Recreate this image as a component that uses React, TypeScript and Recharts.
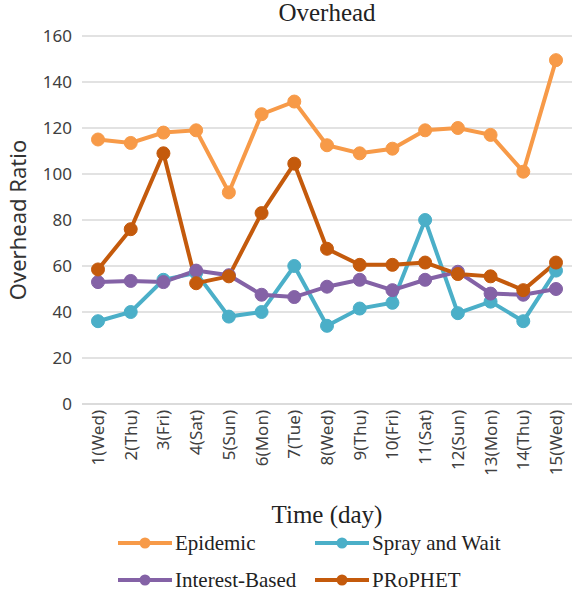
import { LineChart, Line, XAxis, YAxis, CartesianGrid, Legend } from "recharts"

const days = ["1(Wed)", "2(Thu)", "3(Fri)", "4(Sat)", "5(Sun)", "6(Mon)", "7(Tue)", "8(Wed)", "9(Thu)", "10(Fri)", "11(Sat)", "12(Sun)", "13(Mon)", "14(Thu)", "15(Wed)"]
const epidemic = [115, 113.5, 118, 119, 92, 126, 131.5, 112.5, 109, 111, 119, 120, 117, 101, 149.5]
const sprayAndWait = [36, 40, 54, 57, 38, 40, 60, 34, 41.5, 44, 80, 39.5, 44.5, 36, 58]
const interestBased = [53, 53.5, 53, 58, 56, 47.5, 46.5, 51, 54, 49.5, 54, 57.5, 48, 47.5, 50]
const prophet = [58.5, 76, 109, 52.5, 55.5, 83, 104.5, 67.5, 60.5, 60.5, 61.5, 56.5, 55.5, 49.5, 61.5]
const yTicks = [0, 20, 40, 60, 80, 100, 120, 140, 160]

const series = [
  { key: "epidemic", name: "Epidemic", color: "#F79A48" },
  { key: "spray", name: "Spray and Wait", color: "#4BAFC8" },
  { key: "interest", name: "Interest-Based", color: "#8462A6" },
  { key: "prophet", name: "PRoPHET", color: "#C45A0C" },
]

const data = days.map((day, i) => ({
  day,
  epidemic: epidemic[i],
  spray: sprayAndWait[i],
  interest: interestBased[i],
  prophet: prophet[i],
}))

const serif = "'Liberation Serif', 'Times New Roman', serif"
const sans = "'Noto Sans', 'Open Sans', sans-serif"

function DayTick({ x, y, payload }: any) {
  return (
    <g transform={`translate(${x},${y})`}>
      <text transform="rotate(-90)" x={-6} y={0} dy="0.35em" textAnchor="end" fontSize={17} fontFamily={sans} fill="#404040">
        {payload.value}
      </text>
    </g>
  )
}

function LegendBox() {
  const cols = [118, 315]
  const rows = [543, 580]
  return (
    <svg width={572} height={67} style={{ display: "block" }}>
      {series.map((s, i) => {
        const lx = cols[i % 2]
        const ly = rows[Math.floor(i / 2)] - 525
        return (
          <g key={s.key}>
            <line x1={lx} x2={lx + 54} y1={ly} y2={ly} stroke={s.color} strokeWidth={4} />
            <circle cx={lx + 27} cy={ly} r={5.5} fill={s.color} />
            <text x={lx + 57} y={ly} dy="0.35em" fontSize={21} fontFamily={serif} fill="#222">
              {s.name}
            </text>
          </g>
        )
      })}
    </svg>
  )
}

export default function App() {
  return (
    <div style={{ position: "absolute", left: 0, top: 0, width: 572, height: 592, background: "#fff" }}>
      <div style={{ position: "absolute", left: 0, width: 572, top: 0, textAlign: "center", paddingLeft: 82, boxSizing: "border-box", fontFamily: serif, fontSize: 25, lineHeight: "26px", color: "#222" }}>
        Overhead
      </div>
      <LineChart width={572} height={592} data={data} margin={{ top: 36, right: 0, bottom: 0, left: 0 }}>
        <CartesianGrid vertical={false} stroke="#D9D9D9" strokeWidth={1.5} />
        <XAxis
          dataKey="day"
          interval={0}
          height={121}
          tickLine={false}
          axisLine={{ stroke: "#D9D9D9", strokeWidth: 1.5 }}
          tickSize={0}
          tickMargin={0}
          padding={{ left: 16, right: 16 }}
          tick={<DayTick />}
          label={{ value: "Time (day)", position: "insideBottom", offset: 2, fontSize: 25, fontFamily: serif, fill: "#222" }}
        />
        <YAxis
          domain={[0, 160]}
          ticks={yTicks}
          width={82}
          tickLine={false}
          axisLine={false}
          tickSize={0}
          tickMargin={10}
          tick={{ fontSize: 17, fontFamily: sans, fill: "#404040" }}
          label={{ value: "Overhead Ratio", angle: -90, position: "insideLeft", offset: 18, fontSize: 22, fontFamily: sans, fill: "#333", style: { textAnchor: "middle" } }}
        />
        <Legend
          verticalAlign="bottom"
          wrapperStyle={{ position: "absolute", left: 0, top: 525, width: 572, height: 67 }}
          content={() => <LegendBox />}
        />
        {series.map((s) => (
          <Line
            key={s.key}
            dataKey={s.key}
            name={s.name}
            stroke={s.color}
            strokeWidth={4}
            dot={{ r: 6.5, fill: s.color, stroke: s.color, strokeWidth: 1 }}
            activeDot={false}
            isAnimationActive={false}
          />
        ))}
      </LineChart>
    </div>
  )
}
